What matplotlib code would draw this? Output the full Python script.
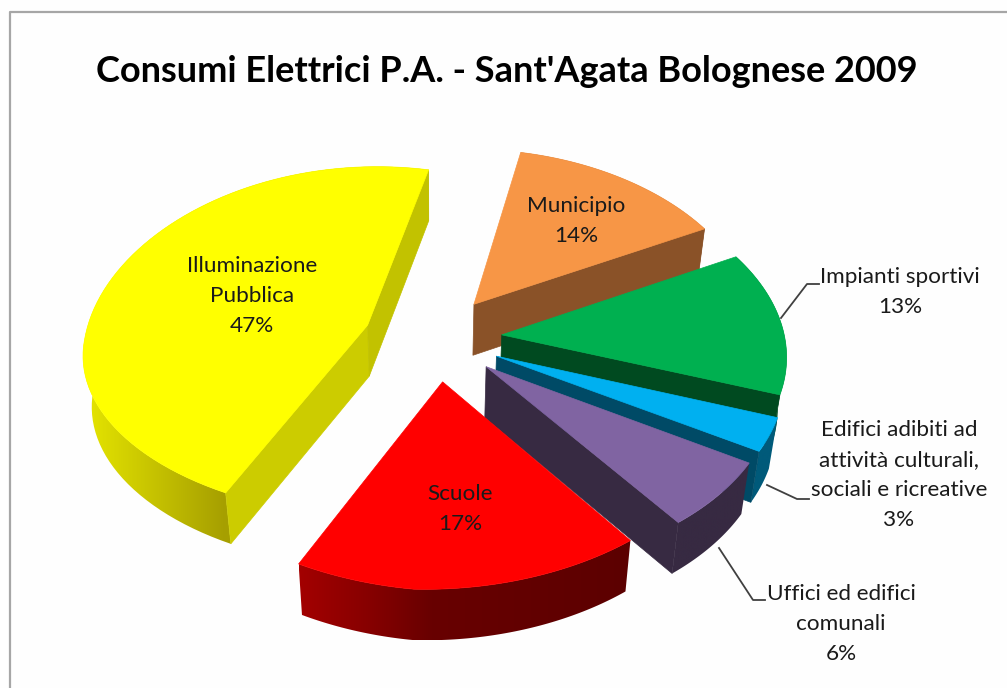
"""
Consumi elettrici P.A. - torta 3D esplosa disegnata con poligoni
"""

import numpy as np
import matplotlib
matplotlib.use("Agg")
import matplotlib.pyplot as plt
from matplotlib.patches import Polygon
from matplotlib.colors import LinearSegmentedColormap

# ── Dati ─────────────────────────────────────────────────────────────────────

TITLE = "Consumi Elettrici P.A. - Sant'Agata Bolognese 2009"
CATEGORIES = ["Illuminazione Pubblica", "Municipio", "Impianti sportivi",
              "Edifici adibiti ad attività culturali, sociali e ricreative",
              "Uffici ed edifici comunali", "Scuole"]
VALUES = [47, 14, 13, 3, 6, 17]

LABEL_LINES = [["Illuminazione", "Pubblica"], ["Municipio"], ["Impianti sportivi"],
               ["Edifici adibiti ad", "attività culturali,", "sociali e ricreative"],
               ["Uffici ed edifici", "comunali"], ["Scuole"]]

# ── Stile e geometria ────────────────────────────────────────────────────────

TOP_COLORS = ["#ffff00", "#f79646", "#00b050", "#00b0f0", "#8064a2", "#ff0000"]
START_WALL = ["#cccc00", None, None, None, None, None]
END_WALL = ["#c2c200", "#8a5228", "#004a20", "#004a66", "#372a42", None]
# Sfumatura del bordo esterno, da sinistra a destra
RIM_STOPS = [[(0, "#e6e600"), (0.41, "#a69f00"), (1, "#a69f00")],
             [(0, "#8a5228"), (1, "#8a5228")],
             [(0, "#004a20"), (1, "#004a20")],
             [(0, "#005a7a"), (1, "#005a7a")],
             [(0, "#372a42"), (1, "#372a42")],
             [(0, "#a30000"), (0.2, "#880000"), (0.4, "#680000"), (1, "#5c0000")]]

X0, Y0 = 433, 338      # centro della torta sullo schermo
A, B = 283, 177        # scala orizzontale / verticale
PERSP = 0.101          # prospettiva in profondità
WARP = (8, -8, -6)     # correzione orizzontale del bordo: v, u*v, v*v
WARP_Y = -18           # correzione verticale del bordo, quadrante in basso a sinistra
EXPLODE = 0.244
DEPTH = 51
START_ANGLE = 12       # inizio di Municipio, gradi in senso orario dall'alto

LABEL_POS = [(252, 266), (576, 206), (900, 277), (899, 430), (841, 594), (460, 494)]
LINE_STEP = 30
LEADERS = [None, None,
           [(781, 318), (807, 284), (819, 284)],
           [(767, 485), (797, 499), (809, 499)],
           [(719, 548), (753, 600), (765, 600)],
           None]


def project(u, v, low=False, rim=False):
    w = 1 + PERSP * v
    x = A * u / w
    y = Y0 - B * v / w
    if rim:
        x += WARP[0] * v + WARP[1] * u * v + WARP[2] * v * v
        if u < 0 and v < 0:
            y += WARP_Y * u * v
    if low:
        return X0 + x * 0.975, y + DEPTH
    return X0 + x, y


def slice_points(a1, a2, n=80):
    """Spostamento di esplosione e coordinate del bordo di una fetta."""
    mid = np.radians((a1 + a2) / 2)
    du, dv = EXPLODE * np.sin(mid), EXPLODE * np.cos(mid)
    t = np.radians(np.linspace(a1, a2, n))
    return du, dv, du + np.sin(t), dv + np.cos(t)


def draw_slice(ax, a1, a2, i):
    du, dv, us, vs = slice_points(a1, a2)
    zorder = 2 + i

    def poly(points, color):
        patch = Polygon(points, closed=True, facecolor=color, edgecolor=color,
                        linewidth=0.5, zorder=zorder)
        ax.add_patch(patch)
        return patch

    # Bordo esterno con sfumatura
    rim_top = [project(u, v, rim=True) for u, v in zip(us, vs)]
    rim_low = [project(u, v, low=True, rim=True) for u, v in zip(us, vs)]
    rim = rim_top + rim_low[::-1]
    xs = [p[0] for p in rim]
    ys = [p[1] for p in rim]
    cmap = LinearSegmentedColormap.from_list("rim", RIM_STOPS[i])
    img = ax.imshow(np.linspace(0, 1, 256).reshape(1, -1), cmap=cmap, aspect="auto",
                    extent=(min(xs), max(xs), max(ys), min(ys)), zorder=zorder)
    clip = Polygon(rim, closed=True, transform=ax.transData)
    img.set_clip_path(clip)

    # Pareti di taglio
    apex = project(du, dv)
    apex_low = project(du, dv, low=True)
    for idx, color in ((0, START_WALL[i]), (-1, END_WALL[i])):
        if color:
            poly([apex, rim_top[idx], rim_low[idx], apex_low], color)

    # Faccia superiore
    poly([apex] + rim_top, TOP_COLORS[i])


def main():
    plt.rcParams["font.family"] = ["Lato", "DejaVu Sans"]
    fig = plt.figure(figsize=(10.07, 6.88), dpi=100, facecolor="#fefefe")
    ax = fig.add_axes([0, 0, 1, 1])
    ax.axis("off")

    # Cornice del grafico (aperta a destra e in basso)
    ax.plot([10, 10, 1007], [688, 12, 12], color="#a6a6a6", linewidth=1.6, zorder=1)

    ax.text(507, 72, TITLE, ha="center", va="center", fontsize=26,
            fontweight="bold", color="black")

    # Illuminazione parte prima di Municipio: il giro si chiude a START_ANGLE
    angles = np.array(VALUES) * 3.6
    starts = [START_ANGLE - angles[0]]
    for a in angles[:-1]:
        starts.append(starts[-1] + a)

    for i, a1 in enumerate(starts):
        draw_slice(ax, a1, a1 + angles[i], i)

    for i, (x, y) in enumerate(LABEL_POS):
        lines = LABEL_LINES[i] + [f"{VALUES[i]}%"]
        for j, line in enumerate(lines):
            ax.text(x, y + j * LINE_STEP, line, ha="center", va="center",
                    fontsize=16.2, color="#1a1a1a", zorder=20)
        if LEADERS[i]:
            xs, ys = zip(*LEADERS[i])
            ax.plot(xs, ys, color="#404040", linewidth=1.3, zorder=20)

    ax.set_xlim(0, 1007)
    ax.set_ylim(688, 0)
    fig.savefig("out.png", dpi=100, facecolor=fig.get_facecolor())


if __name__ == "__main__":
    main()
